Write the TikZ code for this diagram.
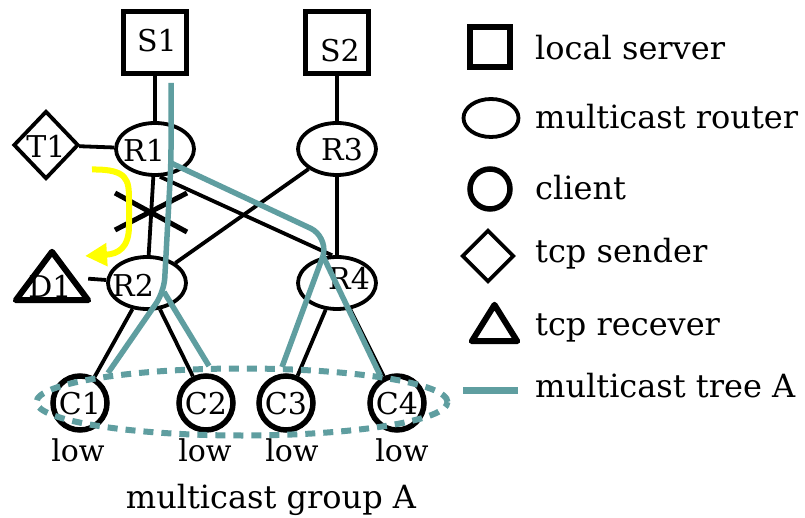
\documentclass[tikz,border=0pt]{standalone}
\usepackage{fontspec}
\setmainfont{DejaVu Serif}
\usetikzlibrary{shapes.geometric,arrows.meta}
\definecolor{teal}{RGB}{95,158,160}
\definecolor{ylw}{RGB}{255,255,0}
\begin{document}
\begin{tikzpicture}[x=1pt,y=-1pt,
  lnk/.style={line width=3.8pt},
  srv/.style={draw,line width=5.5pt,rectangle,inner sep=0pt,minimum width=63pt,minimum height=62pt},
  router/.style={draw,line width=3.8pt,ellipse,inner sep=0pt,minimum width=78pt,minimum height=52pt},
  client/.style={draw,line width=5.5pt,circle,inner sep=0pt,minimum size=54pt},
  sender/.style={draw,line width=3.8pt,diamond,inner sep=0pt,minimum width=65pt,minimum height=68pt},
  trbox/.style={inner sep=0pt},
  lab/.style={inner sep=0pt,font=\fontsize{30}{34}\selectfont},
  ltxt/.style={inner sep=0pt,anchor=base west,font=\fontsize{32}{36}\selectfont},
  tree/.style={draw=teal,line width=5.5pt},
]
\useasboundingbox (0,0) rectangle (805,518);
\fill[white] (0,0) rectangle (805,518);

% nodes
\node[srv] (S1) at (155,42.5) {};
\node[srv] (S2) at (337,42.5) {};
\node[router] (R1) at (155,149) {};
\node[router] (R3) at (337,149) {};
\node[router] (R2) at (147,283) {};
\node[router] (R4) at (337,283) {};
\node[sender] (T1) at (46,145) {};
\node[trbox,minimum width=72pt,minimum height=48pt] (D1) at (52,276) {};
\draw[line width=6pt,line join=round] (D1.south west) -- (D1.north) -- (D1.south east) -- cycle;
\node[client] (C1) at (80,403) {};
\node[client] (C2) at (206,403) {};
\node[client] (C3) at (286,403) {};
\node[client] (C4) at (397,403) {};

% labels
\node[lab] (S1t) at (157,41) {S1};
\node[lab] (S2t) at (340,51) {S2};
\node[lab] (R1t) at (144,150) {R1};
\node[lab] (R3t) at (342,150) {R3};
\node[lab] (R2t) at (133,285) {R2};
\node[lab] (R4t) at (349,278) {R4};
\node[lab] (T1t) at (46,146) {T1};
\node[lab] (D1t) at (50,286) {D1};
\node[lab] (C1t) at (80,404) {C1};
\node[lab] (C2t) at (206,404) {C2};
\node[lab] (C3t) at (286,404) {C3};
\node[lab] (C4t) at (397,404) {C4};
\node[lab,anchor=base] (L1) at (78,461) {low};
\node[lab,anchor=base] (L2) at (205,461) {low};
\node[lab,anchor=base] (L3) at (292,461) {low};
\node[lab,anchor=base] (L4) at (402,461) {low};
\node[lab,anchor=base,font=\fontsize{32}{36}\selectfont] (grpt) at (271,508) {multicast group A};

% black links
\draw[lnk] (S1) -- (R1);
\draw[lnk] (S2) -- (R3);
\draw[lnk] (T1) -- (R1);
\draw[lnk] (D1) -- (R2);
\draw[lnk] (R1) -- (R2);
\draw[lnk] (R1.-80) -- (R4.100);
\draw[lnk] (R3) -- (R2);
\draw[lnk] (R3) -- (R4);
\draw[lnk] (R2) -- (C1);
\draw[lnk] (R2) -- (C2);
\draw[lnk] (R4) -- (C3);
\draw[lnk] (R4) -- (C4);

% cross mark
\coordinate (xa) at (115,193); \coordinate (xb) at (187,232);
\coordinate (xc) at (115,230); \coordinate (xd) at (187,193);
\draw[line width=5pt] (xa) -- (xb);
\draw[line width=5pt] (xc) -- (xd);

% yellow arrow
\coordinate (ys) at (92,169.5);
\coordinate (ye) at (85,256);
\draw[draw=ylw,line width=6pt,-{Triangle[length=22pt,width=22pt]}]
  (ys) .. controls (128,169) and (129,180) .. (129,200) -- (129,226)
  .. controls (129,248) and (118,254) .. (ye);

% multicast tree
\coordinate (tS) at (171,83);
\coordinate (tA) at (171,163);
\coordinate (tB) at (164,292);
\coordinate (tC1) at (108,373);
\coordinate (tC2) at (209,366);
\coordinate (tK) at (327,236);
\coordinate (tR) at (323,256);
\coordinate (tC3) at (282,367);
\coordinate (tC4) at (380,375);
\draw[tree,rounded corners=14pt] (tS) -- (tA) -- (tB) -- (tC1);
\draw[tree] (tB) -- (tC2);
\draw[tree,rounded corners=18pt] (tA) -- (tK) -- (tR);
\draw[tree] (tR) -- (tC3);
\draw[tree] (tR) -- (tC4);

% group ellipse
\node[draw=teal,line width=6pt,dash pattern=on 10pt off 8pt,ellipse,inner sep=0pt,minimum width=411pt,minimum height=67pt] (grp) at (242,402) {};

% legend
\node[srv,minimum width=40pt,minimum height=40pt] (lS) at (490,47) {};
\node[router,minimum width=55pt,minimum height=38pt] (lR) at (491,118) {};
\node[client,minimum size=40pt] (lC) at (490,189) {};
\node[sender,minimum width=52pt,minimum height=52pt] (lT) at (488,256) {};
\node[trbox,minimum width=45pt,minimum height=36pt] (lD) at (494.5,323) {};
\draw[line width=6pt,line join=round] (lD.south west) -- (lD.north) -- (lD.south east) -- cycle;
\coordinate (lta) at (463,390); \coordinate (ltb) at (518,390);
\draw[draw=teal,line width=7pt] (lta) -- (ltb);
\node[ltxt] (lSt) at (535,60) {local server};
\node[ltxt] (lRt) at (535,129) {multicast router};
\node[ltxt] (lCt) at (535,200) {client};
\node[ltxt] (lTt) at (535,263) {tcp sender};
\node[ltxt] (lDt) at (535,335) {tcp recever};
\node[ltxt] (lMt) at (535,397) {multicast tree A};
\end{tikzpicture}
\end{document}
